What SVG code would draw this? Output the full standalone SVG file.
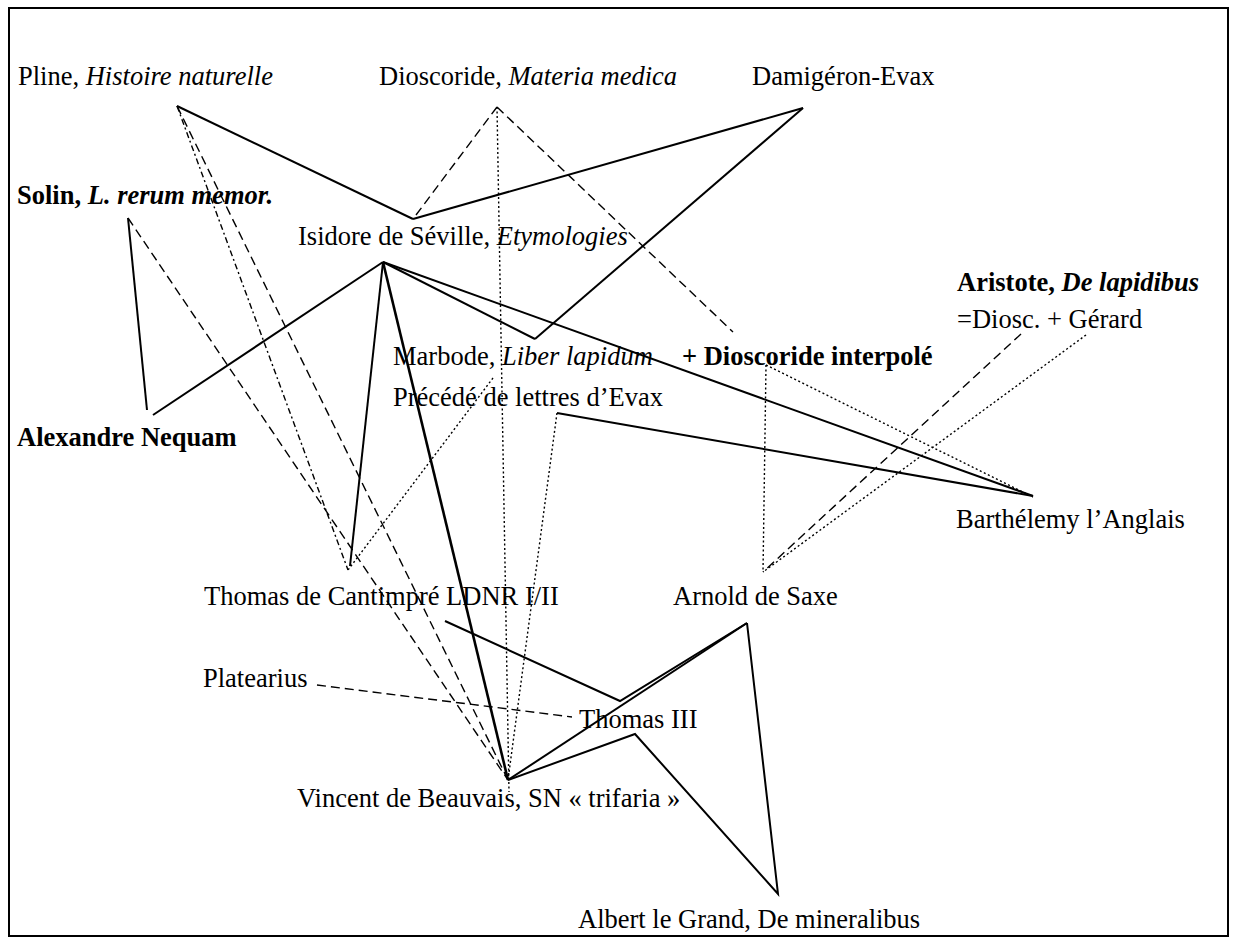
<svg xmlns="http://www.w3.org/2000/svg" width="1237" height="941" viewBox="0 0 1237 941">
<style>
.t{font-family:"Liberation Serif","Times New Roman",serif;font-size:26.5px;fill:#000}
.b{font-weight:bold}
.i{font-style:italic}
.s{stroke:#000;stroke-width:2;fill:none;stroke-linejoin:miter}
.s3{stroke:#000;stroke-width:2.6;fill:none}
.s1{stroke:#000;stroke-width:1.5;fill:none}
.d{stroke:#000;stroke-width:1.4;fill:none;stroke-dasharray:9 5}
.o{stroke:#000;stroke-width:1.4;fill:none;stroke-dasharray:2 2.5}
.dd{stroke:#000;stroke-width:1.4;fill:none;stroke-dasharray:6 3 2 3}
</style>
<rect x="9" y="8" width="1219" height="928" fill="#fff" stroke="#000" stroke-width="2"/>
<g id="connectors">
<line class="s" x1="177" y1="106" x2="413" y2="219"/>
<line class="d" x1="497" y1="107" x2="413" y2="219"/>
<line class="s" x1="803" y1="108" x2="413" y2="219"/>
<line class="s" x1="803" y1="108" x2="535" y2="339"/>
<line class="s" x1="383" y1="262" x2="535" y2="339"/>
<line class="s" x1="383" y1="262" x2="1033" y2="496"/>
<line class="s" x1="383" y1="262" x2="153" y2="415"/>
<line class="s" x1="383" y1="262" x2="350" y2="566"/>
<line class="s3" x1="383" y1="262" x2="508" y2="780"/>
<line class="s" x1="128" y1="218" x2="147" y2="410"/>
<line class="d" x1="128" y1="218" x2="508" y2="780"/>
<line class="d" x1="177" y1="106" x2="508" y2="780"/>
<line class="dd" x1="177" y1="106" x2="348" y2="570"/>
<line class="o" x1="497" y1="107" x2="509" y2="792"/>
<line class="d" x1="497" y1="107" x2="733" y2="332"/>
<line class="o" x1="493" y1="378" x2="348" y2="570"/>
<line class="s" x1="557" y1="413" x2="1033" y2="496"/>
<line class="o" x1="557" y1="413" x2="508" y2="780"/>
<line class="o" x1="766" y1="365" x2="1033" y2="497"/>
<line class="o" x1="766" y1="365" x2="763" y2="572"/>
<line class="d" x1="1021" y1="334" x2="763" y2="572"/>
<line class="o" x1="1086" y1="335" x2="763" y2="572"/>
<polyline class="s" points="445,621 620,701 747,623"/>
<line class="d" x1="317" y1="685" x2="572" y2="717"/>
<line class="s" x1="508" y1="780" x2="747" y2="623"/>
<polyline class="s" points="508,780 635,734 778,894 747,623"/>
</g>
<g id="pline"><text class="t" x="18" y="85">Pline, <tspan class="i">Histoire naturelle</tspan></text></g>
<g id="dioscoride"><text class="t" x="379" y="85">Dioscoride, <tspan class="i">Materia medica</tspan></text></g>
<g id="damigeron"><text class="t" x="752" y="85">Damigéron-Evax</text></g>
<g id="solin"><text class="t b" x="17" y="204">Solin, <tspan class="i">L. rerum memor.</tspan></text></g>
<g id="isidore"><text class="t" x="298" y="245">Isidore de Séville, <tspan class="i">Etymologies</tspan></text></g>
<g id="aristote"><text class="t b" x="957" y="291">Aristote, <tspan class="i">De lapidibus</tspan></text><text class="t" x="957" y="328">=Diosc. + Gérard</text></g>
<g id="marbode"><text class="t" x="393" y="365">Marbode, <tspan class="i">Liber lapidum</tspan></text><text class="t" x="393" y="406">Précédé de lettres d’Evax</text></g>
<g id="dioscoride-interpole"><text class="t b" x="682" y="365">+ Dioscoride interpolé</text></g>
<g id="alexandre"><text class="t b" x="17" y="446">Alexandre Nequam</text></g>
<g id="barthelemy"><text class="t" x="956" y="528">Barthélemy l’Anglais</text></g>
<g id="thomas"><text class="t" x="204" y="605">Thomas de Cantimpré LDNR I/II</text></g>
<g id="arnold"><text class="t" x="673" y="605">Arnold de Saxe</text></g>
<g id="platearius"><text class="t" x="203" y="687">Platearius</text></g>
<g id="thomas3"><text class="t" x="579" y="728">Thomas III</text></g>
<g id="vincent"><text class="t" x="297" y="807">Vincent de Beauvais, SN « trifaria »</text></g>
<g id="albert"><text class="t" x="578" y="928">Albert le Grand, De mineralibus</text></g>
</svg>
